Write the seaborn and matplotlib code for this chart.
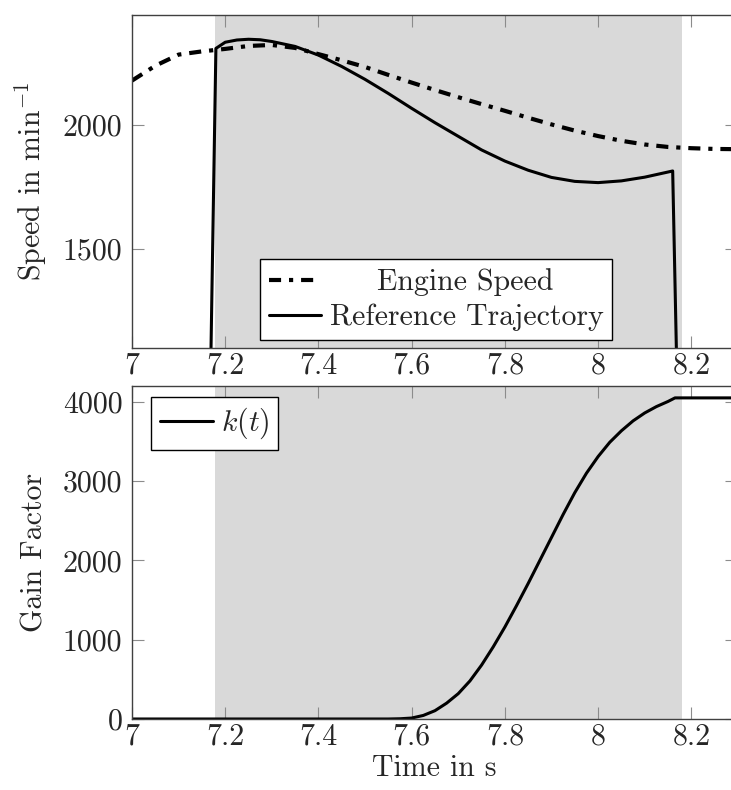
import numpy as np
import pandas as pd
import matplotlib
matplotlib.use("Agg")
import matplotlib.pyplot as plt
import matplotlib.transforms as mtransforms
import seaborn as sns

# ---------------- data ----------------
t_engine = [7.0, 7.05, 7.1, 7.15, 7.2, 7.25, 7.3, 7.35, 7.4, 7.45, 7.5, 7.55, 7.6,
            7.65, 7.7, 7.75, 7.8, 7.85, 7.9, 7.95, 8.0, 8.05, 8.1, 8.15, 8.2, 8.25, 8.3]
engine_speed = [2180, 2240, 2285, 2298, 2308, 2320, 2324, 2312, 2287, 2262, 2235, 2203, 2172,
                2142, 2113, 2085, 2058, 2030, 2003, 1978, 1956, 1937, 1922, 1912, 1907, 1904, 1903]

t_ref = [7.16, 7.18, 7.2, 7.225, 7.25, 7.275, 7.3, 7.35, 7.4, 7.45, 7.5, 7.55, 7.6, 7.65,
         7.7, 7.75, 7.8, 7.85, 7.9, 7.95, 8.0, 8.05, 8.1, 8.16, 8.18]
ref_speed = [0, 2310, 2335, 2344, 2347, 2345, 2338, 2318, 2283, 2237, 2185, 2128, 2068, 2010,
             1955, 1900, 1855, 1818, 1789, 1773, 1768, 1775, 1790, 1815, 0]

t_gain = [7.0, 7.5, 7.55, 7.575, 7.6, 7.625, 7.65, 7.675, 7.7, 7.725, 7.75, 7.775, 7.8, 7.825,
          7.85, 7.875, 7.9, 7.925, 7.95, 7.975, 8.0, 8.025, 8.05, 8.075, 8.1, 8.125, 8.15,
          8.165, 8.3]
gain = [0, 0, 0, 3, 12, 45, 105, 200, 320, 480, 680, 910, 1160, 1430,
        1710, 2000, 2290, 2580, 2855, 3100, 3310, 3490, 3635, 3760, 3860, 3940, 4005,
        4050, 4050]

shade_start, shade_end = 7.178, 8.180

x_ticks = [7.0, 7.2, 7.4, 7.6, 7.8, 8.0, 8.2]
x_tick_labels = ["7", "7.2", "7.4", "7.6", "7.8", "8", "8.2"]
speed_ticks = [1500, 2000]
speed_tick_labels = ["1500", "2000"]
gain_ticks = [0, 1000, 2000, 3000, 4000]
gain_tick_labels = ["0", "1000", "2000", "3000", "4000"]

df_engine = pd.DataFrame({"t": t_engine, "v": engine_speed})
df_ref = pd.DataFrame({"t": t_ref, "v": ref_speed})
df_gain = pd.DataFrame({"t": t_gain, "v": gain})

# ---------------- style ----------------
sns.set_theme(style="ticks")
plt.rcParams.update({
    "font.family": ["cmr10", "DejaVu Serif"],
    "mathtext.fontset": "cm",
    "axes.formatter.use_mathtext": True,
    "font.size": 21.5,
    "axes.edgecolor": "0.25",
    "axes.linewidth": 1.0,
})

FS = 21.5
fig = plt.figure(figsize=(7.31, 7.9), dpi=100)
W, H = 731, 790
ax1 = fig.add_axes([132 / W, 1 - 348 / H, 605 / W, 333 / H])
ax2 = fig.add_axes([132 / W, 1 - 719 / H, 605 / W, 333 / H])

for ax in (ax1, ax2):
    ax.axvspan(shade_start, shade_end, color="#d9d9d9", lw=0, zorder=0)
    ax.set_xlim(7.0, 8.298)
    ax.set_xticks(x_ticks)
    ax.set_xticklabels(x_tick_labels)
    ax.tick_params(direction="in", length=8.5, width=0.8, color="0.55",
                   top=True, right=True, labelsize=FS, pad=3)
    ax.tick_params(axis="y", pad=7)
    for s in ax.spines.values():
        s.set_color("0.25")
        s.set_zorder(5)
    ax.set_facecolor("white")

# top plot
sns.lineplot(data=df_engine, x="t", y="v", ax=ax1, color="black", lw=3.0,
             label="Engine Speed", zorder=3)
ax1.lines[-1].set_dashes([2.9, 1.9, 1.0, 1.9])
sns.lineplot(data=df_ref, x="t", y="v", ax=ax1, color="black", lw=2.2,
             label="Reference Trajectory", zorder=3)
ax1.set_ylim(1100, 2445)
ax1.set_yticks(speed_ticks)
ax1.set_yticklabels(speed_tick_labels)
ax1.set_xlabel("")
ax1.set_ylabel(r"Speed in min$^{-1}$", fontsize=FS, labelpad=10)

leg1 = ax1.legend(loc="lower left", bbox_to_anchor=(0.212, 0.024), fontsize=FS,
                  frameon=True, fancybox=False, framealpha=1, edgecolor="black",
                  handlelength=1.75, handletextpad=0.27, borderpad=0.3,
                  labelspacing=0.25, borderaxespad=0)
leg1.get_frame().set_linewidth(1.0)
t0 = leg1.get_texts()[0]
t0.set_transform(t0.get_transform() +
                 mtransforms.ScaledTranslation(0.47, 0, fig.dpi_scale_trans))

# bottom plot
sns.lineplot(data=df_gain, x="t", y="v", ax=ax2, color="black", lw=2.2,
             label=r"$k(t)$", zorder=3)
ax2.set_ylim(0, 4200)
ax2.set_yticks(gain_ticks)
ax2.set_yticklabels(gain_tick_labels)
ax2.set_xlabel("Time in s", fontsize=FS, labelpad=3)
ax2.set_ylabel("Gain Factor", fontsize=FS, labelpad=10)

leg2 = ax2.legend(loc="upper left", bbox_to_anchor=(0.032, 0.967), fontsize=FS,
                  frameon=True, fancybox=False, framealpha=1, edgecolor="black",
                  handlelength=1.75, handletextpad=0.27, borderpad=0.3,
                  borderaxespad=0)
leg2.get_frame().set_linewidth(1.0)

fig.savefig("out.png", dpi=100)
